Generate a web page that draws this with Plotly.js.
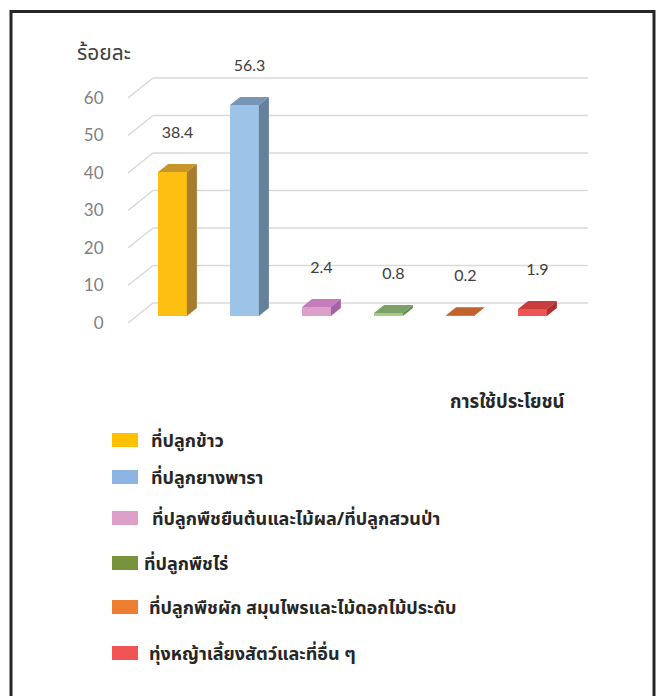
<!DOCTYPE html>
<html>
<head>
<meta charset="utf-8">
<script src="https://cdn.plot.ly/plotly-3.0.1.min.js"></script>
<style>
  html, body { margin: 0; padding: 0; background: #ffffff; }
  #chart { width: 662px; height: 696px; }
</style>
</head>
<body>
<div id="chart"></div>
<script>
// ---------------- DATA ----------------
const categories = [
  "ที่ปลูกข้าว",
  "ที่ปลูกยางพารา",
  "ที่ปลูกพืชยืนต้นและไม้ผล/ที่ปลูกสวนป่า",
  "ที่ปลูกพืชไร่",
  "ที่ปลูกพืชผัก สมุนไพรและไม้ดอกไม้ประดับ",
  "ทุ่งหญ้าเลี้ยงสัตว์และที่อื่น ๆ"
];
const values = [38.4, 56.3, 2.4, 0.8, 0.2, 1.9];
const yTickVals = [0, 10, 20, 30, 40, 50, 60];
const yAxisTitle = "ร้อยละ";
const xAxisTitle = "การใช้ประโยชน์";

// ---------------- STYLE ----------------
const frontColors = ["#FDBF12", "#9DC3E6", "#DDA0CA", "#A6CC8A", "#E9853F", "#F05454"];
const topColors   = ["#C8952A", "#7795B6", "#C27DBA", "#7DA066", "#C0622A", "#C83C3C"];
const sideColors  = ["#A67C2E", "#64809A", "#A563A5", "#6A8A55", "#A05020", "#B03030"];
const legendColors = ["#FFC000", "#8EB4E3", "#DDA0C8", "#77933C", "#ED7D31", "#F05454"];
const THAI = "Tahoma, 'Leelawadee UI', 'Noto Sans Thai', 'Noto Sans Thai UI', 'Noto Sans', sans-serif";
const NUM = "Lato, 'Open Sans', sans-serif";

// geometry (pixel layout)
const W = 662, H = 696;
const L = 128, R = 588, T = 40, B = 340;
const xr = [-0.618, 5.771];
const yr = [-4.533, 75.467];
const pxX = (R - L) / (xr[1] - xr[0]);   // px per x unit
const pxY = (B - T) / (yr[1] - yr[0]);   // px per y unit
const wallDX = 25 / pxX, wallDY = 20 / pxY;      // full depth of chart floor
const barW = 0.4;
const barBase = 0.35 * wallDY;                    // bar front plane offset
const barDX = 10 / pxX, barDY = 8 / pxY;          // bar depth
const labelGap = 30 / pxY;

const px2paperX = p => (p - L) / (R - L);
const px2paperY = p => (B - p) / (B - T);

const traces = [];
// front faces
traces.push({
  type: "bar",
  x: values.map((v, i) => i),
  y: values,
  base: values.map(() => barBase),
  width: barW,
  marker: { color: frontColors, line: { width: 0 } },
  hoverinfo: "skip",
  showlegend: false
});
// top and side faces
values.forEach((v, i) => {
  const x0 = i - barW / 2, x1 = i + barW / 2;
  const y0 = barBase, y1 = barBase + v;
  traces.push({
    type: "scatter", mode: "lines", fill: "toself",
    x: [x0, x1, x1 + barDX, x0 + barDX, x0],
    y: [y1, y1, y1 + barDY, y1 + barDY, y1],
    fillcolor: topColors[i], line: { width: 0, color: topColors[i] },
    hoverinfo: "skip", showlegend: false
  });
  traces.push({
    type: "scatter", mode: "lines", fill: "toself",
    x: [x1, x1 + barDX, x1 + barDX, x1, x1],
    y: [y0, y0 + barDY, y1 + barDY, y1, y0],
    fillcolor: sideColors[i], line: { width: 0, color: sideColors[i] },
    hoverinfo: "skip", showlegend: false
  });
});
// data labels
traces.push({
  type: "scatter", mode: "text",
  x: values.map((v, i) => i + barDX / 2),
  y: values.map(v => barBase + v + barDY + labelGap),
  text: values.map(v => v.toFixed(1)),
  textposition: "middle center",
  textfont: { family: NUM, size: 16, color: "#404040" },
  hoverinfo: "skip", showlegend: false, cliponaxis: false
});

// gridlines: back wall + side wall diagonals
const shapes = [];
yTickVals.forEach(t => {
  shapes.push({
    type: "line", xref: "x", yref: "y", layer: "below",
    x0: xr[0] + wallDX, x1: xr[1], y0: t + wallDY, y1: t + wallDY,
    line: { color: "#D9D9D9", width: 1.5 }
  });
  shapes.push({
    type: "line", xref: "x", yref: "y", layer: "below",
    x0: xr[0], x1: xr[0] + wallDX, y0: t, y1: t + wallDY,
    line: { color: "#D9D9D9", width: 1.5 }
  });
});
// outer border
shapes.push({
  type: "rect", xref: "paper", yref: "paper",
  x0: px2paperX(11), x1: px2paperX(654), y0: px2paperY(720), y1: px2paperY(11.5),
  line: { color: "#262626", width: 3 }, fillcolor: "rgba(0,0,0,0)"
});

const annotations = [
  { text: yAxisTitle, xref: "paper", yref: "paper", x: px2paperX(75), y: px2paperY(54),
    xanchor: "left", yanchor: "middle", showarrow: false,
    font: { family: THAI, size: 21, color: "#404040" } },
  { text: "<b>" + xAxisTitle + "</b>", xref: "paper", yref: "paper", x: px2paperX(567), y: px2paperY(402),
    xanchor: "right", yanchor: "middle", showarrow: false,
    font: { family: THAI, size: 18.5, color: "#262626" } }
];

// legend (swatches + labels)
const legendY = [440, 477, 518, 563, 607, 653];
const legendTextX = [149, 149, 150, 142, 147, 147];
categories.forEach((c, i) => {
  shapes.push({
    type: "rect", xref: "paper", yref: "paper",
    x0: px2paperX(112), x1: px2paperX(138),
    y0: px2paperY(legendY[i] + 7), y1: px2paperY(legendY[i] - 7),
    fillcolor: legendColors[i], line: { width: 0 }
  });
  annotations.push({
    text: "<b>" + c + "</b>", xref: "paper", yref: "paper",
    x: px2paperX(legendTextX[i]), y: px2paperY(legendY[i] + 1),
    xanchor: "left", yanchor: "middle", showarrow: false,
    font: { family: THAI, size: 18, color: "#262626" }
  });
});

const layout = {
  width: W, height: H,
  margin: { l: L, r: W - R, t: T, b: H - B, pad: 0 },
  paper_bgcolor: "#ffffff", plot_bgcolor: "rgba(0,0,0,0)",
  showlegend: false,
  xaxis: { range: xr, showgrid: false, zeroline: false, showticklabels: false, showline: false, fixedrange: true },
  yaxis: {
    range: yr, showgrid: false, zeroline: false, showline: false,
    tickmode: "array", tickvals: yTickVals, ticktext: yTickVals.map(String),
    ticks: "outside", ticklen: 20, tickcolor: "rgba(0,0,0,0)",
    tickfont: { family: NUM, size: 17, color: "#808080" }, fixedrange: true
  },
  bargap: 0,
  shapes: shapes,
  annotations: annotations
};

Plotly.newPlot("chart", traces, layout, { displayModeBar: false, staticPlot: true });
</script>
</body>
</html>
